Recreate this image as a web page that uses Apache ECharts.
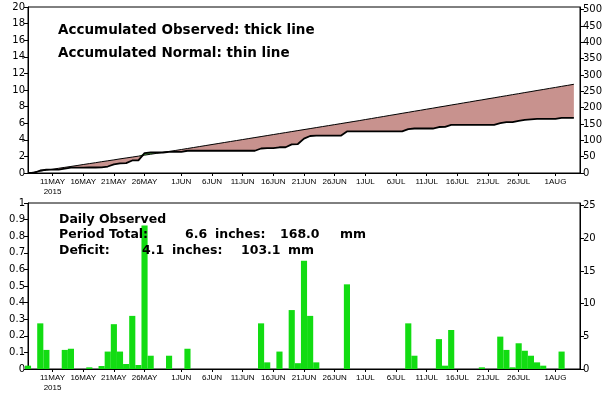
<!DOCTYPE html>
<html><head><meta charset="utf-8">
<script src="https://cdn.jsdelivr.net/npm/echarts@6/dist/echarts.min.js"></script>
<style>html,body{margin:0;padding:0;background:#fff}#c{width:609px;height:395px}</style>
</head><body><div id="c"></div>
<script>
// ---- data ----
const startDate = '2015-05-07';
const numDays = 91;                       // May 7 .. Aug 5 (axis range)
const monthNames = ['JAN','FEB','MAR','APR','MAY','JUN','JUL','AUG','SEP','OCT','NOV','DEC'];
const labelDaysOfMonth = [1, 6, 11, 16, 21, 26];
const yearLabel = '2015';

// daily observed precipitation (inches), May 7 .. Aug 4
const dailyObs = [
  0.02,0,0.275,0.115,0,0,0.115,0.122,0,0,
  0.01,0,0.018,0.105,0.27,0.105,0.03,0.32,0.024,0.865,
  0.08,0,0,0.08,0,0,0.122,0,0,0,
  0,0,0,0,0,0,0,0,0.275,0.04,
  0,0.105,0,0.355,0.035,0.652,0.32,0.04,0,0,
  0,0,0.51,0,0,0,0,0,0,0,
  0,0,0.275,0.08,0,0,0,0.18,0.02,0.235,
  0,0,0,0,0.01,0,0,0.195,0.115,0.01,
  0.155,0.11,0.08,0.04,0.02,0,0,0.105,0,0
];
// accumulated observed (inches)
const accumObs = [
  0.02,0.02,0.30,0.41,0.41,0.41,0.53,0.65,0.65,0.65,
  0.66,0.66,0.68,0.78,1.05,1.16,1.19,1.51,1.53,2.39,
  2.47,2.47,2.47,2.55,2.55,2.55,2.68,2.68,2.68,2.68,
  2.68,2.68,2.68,2.68,2.68,2.68,2.68,2.68,2.95,2.99,
  2.99,3.10,3.10,3.45,3.49,4.14,4.46,4.50,4.50,4.50,
  4.50,4.50,5.01,5.01,5.01,5.01,5.01,5.01,5.01,5.01,
  5.01,5.01,5.28,5.36,5.36,5.36,5.36,5.54,5.56,5.80,
  5.80,5.80,5.80,5.80,5.81,5.81,5.81,6.00,6.12,6.13,
  6.28,6.39,6.47,6.51,6.53,6.53,6.53,6.64,6.64,6.64
];
// accumulated normal (inches)
const accumNormal = [
  0.00,0.11,0.23,0.34,0.45,0.57,0.68,0.79,0.90,1.02,
  1.13,1.24,1.36,1.47,1.58,1.70,1.81,1.92,2.03,2.15,
  2.26,2.37,2.49,2.60,2.71,2.83,2.95,3.07,3.19,3.31,
  3.43,3.55,3.67,3.79,3.91,4.03,4.15,4.27,4.39,4.51,
  4.63,4.75,4.87,4.99,5.11,5.23,5.35,5.47,5.59,5.71,
  5.83,5.95,6.07,6.19,6.31,6.44,6.56,6.69,6.81,6.94,
  7.06,7.19,7.31,7.44,7.56,7.69,7.81,7.94,8.06,8.19,
  8.31,8.44,8.56,8.69,8.81,8.94,9.06,9.19,9.31,9.44,
  9.56,9.69,9.81,9.94,10.06,10.19,10.31,10.44,10.56,10.69
];
const titleLines = ['Accumulated Observed: thick line', 'Accumulated Normal: thin line'];
const periodTotalIn = '6.6', periodTotalMm = '168.0';
const deficitIn = '4.1', deficitMm = '103.1';

// ---- build categories ----
const categories = [], isLabel = [];
{
  const d0 = new Date(startDate + 'T00:00:00Z');
  for (let i = 0; i < numDays; i++) {
    const d = new Date(d0.getTime() + i * 86400000);
    const dom = d.getUTCDate();
    categories.push(dom + monthNames[d.getUTCMonth()]);
    isLabel.push(labelDaysOfMonth.indexOf(dom) >= 0);
  }
}
const firstLabelIdx = isLabel.indexOf(true);

const baseArr = accumObs.map((v, i) => Math.min(v, accumNormal[i]));
const deficitArr = accumObs.map((v, i) => Math.max(0, accumNormal[i] - v));
const surplusArr = accumObs.map((v, i) => Math.max(0, v - accumNormal[i]));

const FONT_AX = 'DejaVu Sans';
function xAxis(gi) {
  return {
    type: 'category', gridIndex: gi, data: categories, boundaryGap: false,
    axisLine: { lineStyle: { color: '#000', width: 1 } },
    axisTick: { show: true, interval: (i) => isLabel[i], length: 3, lineStyle: { color: '#000' } },
    axisLabel: {
      interval: (i) => isLabel[i],
      formatter: (v, i) => (i === firstLabelIdx ? v + '\n' + yearLabel : v),
      fontFamily: 'Liberation Sans', fontSize: 8, color: '#000', margin: 4, lineHeight: 10
    },
    splitLine: { show: false }
  };
}
function yAxis(gi, pos, max, interval) {
  return {
    type: 'value', gridIndex: gi, position: pos, min: 0, max: max, interval: interval,
    axisLine: { show: true, lineStyle: { color: '#000' } },
    axisTick: { show: true, length: 4, lineStyle: { color: '#000' } },
    axisLabel: { fontFamily: FONT_AX, fontSize: 10, color: '#000', margin: 3, showMaxLabel: pos === 'left' },
    splitLine: { show: false }
  };
}

const brown = '#c8928e', lightGreen = '#66dd55', barGreen = '#12dc12';
const txt = (x, y, t, size) => ({
  type: 'text', x: x, y: y, z: 100,
  style: { text: t, fontFamily: 'DejaVu Sans', fontWeight: 'bold', fontSize: size, fill: '#000', verticalAlign: 'middle' }
});

const chart = echarts.init(document.getElementById('c'), null, { renderer: 'canvas' });
chart.setOption({
  animation: false,
  backgroundColor: '#fff',
  grid: [
    { left: 28, right: 29, top: 7, height: 166, show: true, borderColor: '#000', borderWidth: 1 },
    { left: 28, right: 29, top: 203, height: 166, show: true, borderColor: '#000', borderWidth: 1 }
  ],
  xAxis: [xAxis(0), xAxis(1)],
  yAxis: [yAxis(0, 'left', 20, 2), yAxis(0, 'right', 508, 50), yAxis(1, 'left', 1, 0.1), yAxis(1, 'right', 25.4, 5)],
  series: [
    { type: 'line', xAxisIndex: 0, yAxisIndex: 0, stack: 'acc', data: baseArr, symbol: 'none', lineStyle: { width: 0, opacity: 0 }, silent: true },
    { type: 'line', xAxisIndex: 0, yAxisIndex: 0, stack: 'acc', data: deficitArr, symbol: 'none', lineStyle: { width: 0, opacity: 0 }, areaStyle: { color: brown, opacity: 1 } },
    { type: 'line', xAxisIndex: 0, yAxisIndex: 0, stack: 'acc', data: surplusArr, symbol: 'none', lineStyle: { width: 0, opacity: 0 }, areaStyle: { color: lightGreen, opacity: 1 } },
    { type: 'line', xAxisIndex: 0, yAxisIndex: 0, data: accumNormal, symbol: 'none', lineStyle: { color: '#000', width: 1 } },
    { type: 'line', xAxisIndex: 0, yAxisIndex: 0, data: accumObs, symbol: 'none', lineStyle: { color: '#000', width: 1.8 } },
    { type: 'bar', xAxisIndex: 1, yAxisIndex: 2, data: dailyObs, barWidth: '100%', barGap: '0%', itemStyle: { color: barGreen }, clip: true }
  ],
  graphic: [
    txt(58, 30, titleLines[0], 13.5),
    txt(58, 53, titleLines[1], 13.5),
    txt(59, 220, 'Daily Observed', 12.5),
    txt(59, 235, 'Period Total:', 12.5),
    txt(185, 235, periodTotalIn, 12.5),
    txt(215, 235, 'inches:', 12.5),
    txt(280, 235, periodTotalMm, 12.5),
    txt(340, 235, 'mm', 12.5),
    txt(59, 251, 'Deficit:', 12.5),
    txt(142, 251, deficitIn, 12.5),
    txt(172, 251, 'inches:', 12.5),
    txt(241, 251, deficitMm, 12.5),
    txt(288, 251, 'mm', 12.5)
  ]
});
</script></body></html>
